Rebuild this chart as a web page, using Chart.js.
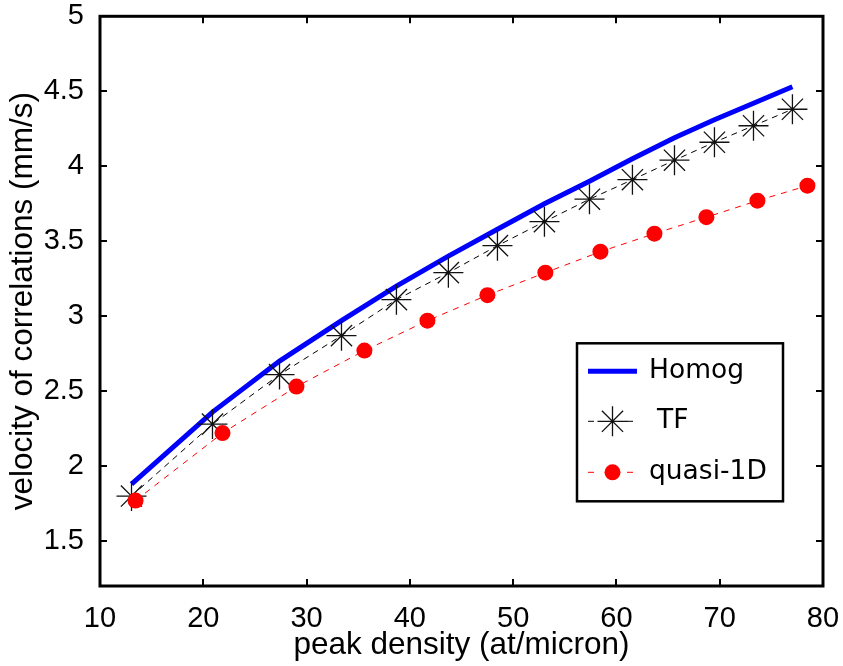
<!DOCTYPE html>
<html>
<head>
<meta charset="utf-8">
<title>Velocity of correlations</title>
<script src="https://cdn.jsdelivr.net/npm/chart.js@4.4.0/dist/chart.umd.min.js"></script>
<style>
  html, body { margin: 0; padding: 0; background: #fff; }
  #wrap { width: 843px; height: 666px; }
</style>
</head>
<body>
<div id="wrap"><canvas id="velocityChart"></canvas></div>
<script>
// peak density (at/micron) and velocity (mm/s)
const tfDensity = [13.05, 20.89, 27.38, 33.38, 38.70, 43.73, 48.48, 53.03, 57.39, 61.55, 65.62, 69.49, 73.27, 77.04];
const homogVelocity = [1.88, 2.36, 2.70, 2.97, 3.20, 3.40, 3.58, 3.75, 3.90, 4.05, 4.19, 4.31, 4.42, 4.53];
const tfVelocity = [1.80, 2.28, 2.61, 2.87, 3.11, 3.29, 3.47, 3.63, 3.78, 3.91, 4.04, 4.16, 4.27, 4.38];
const q1dDensity = [13.44, 21.86, 29.02, 35.60, 41.70, 47.51, 53.12, 58.45, 63.68, 68.71, 73.65, 78.49];
const q1dVelocity = [1.77, 2.22, 2.53, 2.77, 2.97, 3.14, 3.29, 3.43, 3.55, 3.66, 3.77, 3.87];

const xTicks = [10, 20, 30, 40, 50, 60, 70, 80];
const yTicks = [1.5, 2, 2.5, 3, 3.5, 4, 4.5, 5];
const seriesNames = ['Homog', 'TF', 'quasi-1D'];

function toPoints(xs, ys) {
  return xs.map((x, i) => ({ x: x, y: ys[i] }));
}

const tickFont = { family: 'Liberation Sans', size: 29 };
const titleFont = { family: 'Liberation Sans', size: 31.5 };

// box round the plot with short inward ticks on all four sides
const framePlugin = {
  id: 'frame',
  afterDatasetsDraw(chart) {
    const { ctx, chartArea: a, scales } = chart;
    ctx.save();
    ctx.strokeStyle = '#000';
    ctx.lineWidth = 2;
    ctx.beginPath();
    xTicks.forEach(v => {
      const px = Math.round(scales.x.getPixelForValue(v));
      ctx.moveTo(px, a.bottom); ctx.lineTo(px, a.bottom - 7);
      ctx.moveTo(px, a.top); ctx.lineTo(px, a.top + 7);
    });
    yTicks.forEach(v => {
      const py = Math.round(scales.y.getPixelForValue(v));
      ctx.moveTo(a.left, py); ctx.lineTo(a.left + 7, py);
      ctx.moveTo(a.right, py); ctx.lineTo(a.right - 7, py);
    });
    ctx.stroke();
    ctx.lineWidth = 3;
    ctx.strokeRect(a.left, a.top, a.right - a.left, a.bottom - a.top);
    ctx.restore();
  }
};

// boxed legend in the lower right corner
const legendPlugin = {
  id: 'boxLegend',
  afterDraw(chart) {
    const { ctx, chartArea: a } = chart;
    const left = a.right - 246, top = a.top + 327, w = 206, h = 158;
    ctx.save();
    ctx.fillStyle = '#fff';
    ctx.fillRect(left, top, w, h);
    ctx.strokeStyle = '#000';
    ctx.lineWidth = 2.5;
    ctx.strokeRect(left, top, w, h);

    const x0 = left + 11, x1 = left + 60, xm = (x0 + x1) / 2;
    const rows = [top + 28, top + 78, top + 129];
    chart.data.datasets.forEach((ds, i) => {
      const y = rows[i];
      ctx.save();
      ctx.strokeStyle = ds.borderColor;
      ctx.lineWidth = ds.borderWidth;
      ctx.setLineDash(ds.borderDash || []);
      ctx.beginPath();
      if (ds.borderDash) {
        ctx.moveTo(x0, y); ctx.lineTo(x0 + 10, y);
        ctx.moveTo(x1 - 10, y); ctx.lineTo(x1, y);
      } else {
        ctx.moveTo(x0, y); ctx.lineTo(x1, y);
      }
      ctx.stroke();
      ctx.restore();
      if (ds.pointRadius > 0) {
        ctx.save();
        ctx.strokeStyle = ds.pointBorderColor;
        ctx.fillStyle = ds.pointBackgroundColor;
        ctx.lineWidth = ds.pointBorderWidth;
        Chart.helpers.drawPoint(ctx, { pointStyle: ds.pointStyle, radius: ds.pointRadius, borderWidth: ds.pointBorderWidth }, xm, y);
        ctx.restore();
      }
      ctx.fillStyle = '#000';
      ctx.font = '26.5px "DejaVu Sans"';
      ctx.textBaseline = 'middle';
      ctx.fillText(seriesNames[i], left + 72 + (i === 1 ? 8 : 0), y);
    });
    ctx.restore();
  }
};

new Chart(document.getElementById('velocityChart'), {
  type: 'scatter',
  data: {
    datasets: [
      {
        label: seriesNames[0],
        data: toPoints(tfDensity, homogVelocity),
        showLine: true,
        borderColor: '#0000ff',
        borderWidth: 5,
        pointRadius: 0,
        order: 2
      },
      {
        label: seriesNames[1],
        data: toPoints(tfDensity, tfVelocity),
        showLine: true,
        borderColor: '#000',
        borderWidth: 1,
        borderDash: [6, 5],
        pointStyle: 'star',
        pointRadius: 15,
        pointBorderColor: '#111',
        pointBackgroundColor: '#111',
        pointBorderWidth: 1.3,
        order: 1
      },
      {
        label: seriesNames[2],
        data: toPoints(q1dDensity, q1dVelocity),
        showLine: true,
        borderColor: '#ff0000',
        borderWidth: 1,
        borderDash: [6, 6],
        pointStyle: 'circle',
        pointRadius: 8,
        pointBorderColor: '#ff0000',
        pointBackgroundColor: '#ff0000',
        pointBorderWidth: 0,
        order: 0
      }
    ]
  },
  options: {
    responsive: true,
    maintainAspectRatio: false,
    animation: false,
    layout: { padding: { left: 0, top: 15, right: 20, bottom: 0 } },
    plugins: { legend: { display: false }, tooltip: { enabled: false } },
    scales: {
      x: {
        type: 'linear',
        min: 10,
        max: 80,
        grid: { display: false },
        border: { display: false },
        afterBuildTicks: s => { s.ticks = xTicks.map(v => ({ value: v })); },
        afterFit: s => { s.height = 80; s.paddingLeft = 0; s.paddingRight = 0; },
        ticks: { color: '#000', font: tickFont, padding: 8, maxRotation: 0 },
        title: {
          display: true,
          text: 'peak density (at/micron)',
          color: '#000',
          font: titleFont,
          padding: { top: 0, bottom: 2 }
        }
      },
      y: {
        type: 'linear',
        min: 1.2,
        max: 5,
        grid: { display: false },
        border: { display: false },
        afterBuildTicks: s => { s.ticks = yTicks.map(v => ({ value: v })); },
        afterFit: s => { s.width = 100; s.paddingTop = 0; s.paddingBottom = 0; },
        ticks: { color: '#000', font: tickFont, padding: 8, callback: v => String(v) },
        title: {
          display: true,
          text: 'velocity of correlations (mm/s)',
          color: '#000',
          font: titleFont,
          padding: { top: 4, bottom: 0 }
        }
      }
    }
  },
  plugins: [framePlugin, legendPlugin]
});
</script>
</body>
</html>
